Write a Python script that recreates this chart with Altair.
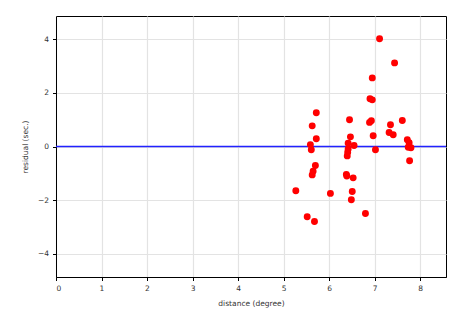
import altair as alt
import pandas as pd

distance = [7.11, 7.44, 6.95, 6.90, 6.95, 5.72, 5.63, 5.72, 5.59, 6.45, 6.47, 6.89, 6.93,
            6.97, 7.35, 7.32, 7.41, 7.61, 7.72, 7.76, 5.61, 5.70, 5.65, 5.63, 5.27, 6.03,
            5.52, 5.68, 6.42, 6.55, 6.42, 6.41, 6.40, 6.38, 6.39, 6.53, 6.51, 6.49, 6.80,
            7.02, 7.74, 7.80, 7.77]
residual = [4.02, 3.12, 2.56, 1.78, 1.74, 1.26, 0.77, 0.29, 0.07, 1.00, 0.36, 0.90, 0.96,
            0.40, 0.81, 0.52, 0.44, 0.97, 0.25, 0.14, -0.12, -0.71, -0.92, -1.06, -1.65, -1.75,
            -2.62, -2.80, 0.12, 0.04, -0.09, -0.21, -0.35, -1.04, -1.10, -1.17, -1.68, -1.99, -2.50,
            -0.12, -0.03, -0.05, -0.53]

df = pd.DataFrame({"distance": distance, "residual": residual})
zero = pd.DataFrame({"y": [0.0]})

xs = alt.Scale(domain=[0, 8.57], nice=False, zero=False)
ys = alt.Scale(domain=[-4.87, 4.87], nice=False, zero=False)

axis_common = dict(grid=True, gridColor="#e3e3e3", gridWidth=1.2, domainColor="black",
                   tickColor="black", tickSize=3.5, labelFontSize=7.5, labelColor="#333333",
                   titleFontSize=7.5, titleColor="#333333", titleFontWeight="normal",
                   labelFont="DejaVu Sans", titleFont="DejaVu Sans", labelPadding=4)

pts = alt.Chart(df).mark_circle(color="red", opacity=1, size=48).encode(
    x=alt.X("distance:Q", scale=xs,
            axis=alt.Axis(title="distance (degree)", values=list(range(0, 9)), titlePadding=7, **axis_common)),
    y=alt.Y("residual:Q", scale=ys,
            axis=alt.Axis(title="residual (sec.)", values=[-4, -2, 0, 2, 4], titlePadding=8, **axis_common)),
)

line = alt.Chart(zero).mark_rule(color="#2222ff", strokeWidth=1.5).encode(y=alt.Y("y:Q", scale=ys))

chart = alt.layer(line, pts).properties(
    width=390, height=261,
    autosize=alt.AutoSizeParams(type="none"),
    padding={"left": 48, "top": 8, "right": 11, "bottom": 40},
).configure_view(stroke="black", strokeWidth=1)

chart.save("out.html", embed_options={"renderer": "svg", "actions": False})
